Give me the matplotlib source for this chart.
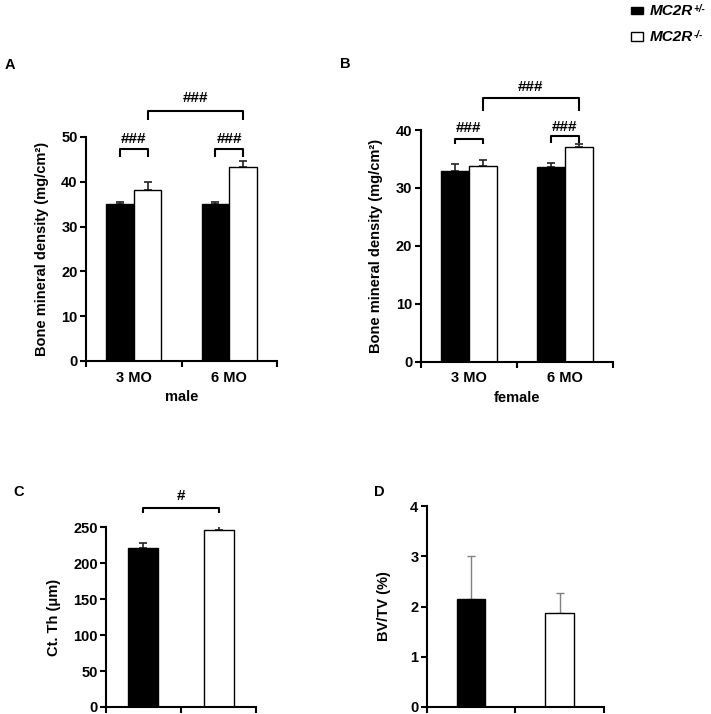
import matplotlib
matplotlib.use("Agg")
import matplotlib.pyplot as plt
from matplotlib.patches import Rectangle

plt.rcParams['font.family'] = ['Liberation Sans', 'DejaVu Sans']
plt.rcParams['font.weight'] = 'bold'

FS = 10.5

# ---- data ----
groups = ["3 MO", "6 MO"]
series = ["MC2R", "MC2R"]
series_sup = ["+/-", "-/-"]
male_het = [35.0, 35.0]
male_het_err = [0.6, 0.4]
male_ko = [38.2, 43.2]
male_ko_err = [1.7, 1.4]
female_het = [33.0, 33.6]
female_het_err = [1.1, 0.7]
female_ko = [33.8, 37.1]
female_ko_err = [1.1, 0.4]
ctth = [221.7, 245.8]
ctth_err = [6.0, 8.8]
bvtv = [2.14, 1.87]
bvtv_err = [0.87, 0.40]

W, H = 711, 714
fig = plt.figure(figsize=(W / 100, H / 100), dpi=100)


def axes_px(l, r, b, t):
    return fig.add_axes([l / W, 1 - b / H, (r - l) / W, (b - t) / H])


def style(ax, ymax, ystep, xmax):
    for s in ['top', 'right']:
        ax.spines[s].set_visible(False)
    for s in ['left', 'bottom']:
        ax.spines[s].set_linewidth(1.5)
    ax.set_ylim(0, ymax)
    ax.set_xlim(0, xmax)
    ax.set_yticks(list(range(0, int(ymax) + 1, ystep)))
    ax.tick_params(axis='y', labelsize=FS, width=1.5, length=4, pad=2)
    ax.set_xticks([i for i in range(xmax + 1)], minor=True)
    ax.tick_params(axis='x', which='minor', width=1.5, length=4)
    ax.tick_params(axis='x', which='major', length=0, labelsize=FS, pad=7)
    for lab in ax.get_yticklabels():
        lab.set_fontweight('bold')


def bracket(ax, x1, x2, ytop, ybot, text, ty):
    ax.plot([x1, x1, x2, x2], [ybot, ytop, ytop, ybot], color='black', lw=1.5,
            clip_on=False, solid_capstyle='butt')
    ax.text((x1 + x2) / 2, ty, text, ha='center', va='center', fontsize=FS + 0.5,
            fontweight='bold', clip_on=False)


def grouped(ax, het, het_err, ko, ko_err):
    w = 0.29
    xs_h = [i + 0.5 - w / 2 for i in range(len(groups))]
    xs_k = [i + 0.5 + w / 2 for i in range(len(groups))]
    ax.bar(xs_h, het, width=w, color='black', edgecolor='black', lw=1, zorder=2)
    ax.bar(xs_k, ko, width=w, color='white', edgecolor='black', lw=1, zorder=2)
    ax.errorbar(xs_h, het, yerr=[[0] * len(het), het_err], fmt='none', ecolor='#222222',
                elinewidth=1.2, capsize=3, capthick=1.2, zorder=1)
    ax.errorbar(xs_k, ko, yerr=[[0] * len(ko), ko_err], fmt='none', ecolor='#222222',
                elinewidth=1.2, capsize=3, capthick=1.2, zorder=1)
    ax.set_xticks([i + 0.5 for i in range(len(groups))])
    ax.set_xticklabels(groups, fontweight='bold')
    return xs_h, xs_k


# ---- Panel A ----
axA = axes_px(86, 277, 361, 137)
style(axA, 50, 10, 2)
xh, xk = grouped(axA, male_het, male_het_err, male_ko, male_ko_err)
axA.set_ylabel("Bone mineral density (mg/cm²)", fontsize=FS, fontweight='bold', labelpad=9)
axA.set_xlabel("male", fontsize=FS, fontweight='bold', labelpad=4)
bracket(axA, xh[0], xk[0], 47.3, 45.6, "###", 49.6)
bracket(axA, xh[1], xk[1], 47.3, 45.6, "###", 49.6)
bracket(axA, xk[0], xk[1], 55.8, 53.8, "###", 58.7)

# ---- Panel B ----
axB = axes_px(420.7, 613, 361.7, 130)
style(axB, 40, 10, 2)
xh, xk = grouped(axB, female_het, female_het_err, female_ko, female_ko_err)
axB.set_ylabel("Bone mineral density (mg/cm²)", fontsize=FS, fontweight='bold', labelpad=9)
axB.set_xlabel("female", fontsize=FS, fontweight='bold', labelpad=4)
bracket(axB, xh[0], xk[0], 38.5, 37.5, "###", 40.3)
bracket(axB, xh[1], xk[1], 39.0, 37.8, "###", 40.6)
bracket(axB, xk[0], xk[1], 45.5, 43.3, "###", 47.5)

# ---- Panel C ----
axC = axes_px(106, 256, 707, 527.3)
style(axC, 250, 50, 2)
xc = [0.49, 1.5]
axC.bar(xc[0], ctth[0], width=0.4, color='black', edgecolor='black', lw=1, zorder=2)
axC.bar(xc[1], ctth[1], width=0.4, color='white', edgecolor='black', lw=1, zorder=2)
axC.errorbar(xc, ctth, yerr=[[0, 0], ctth_err], fmt='none', ecolor='#222222',
             elinewidth=1.2, capsize=3, capthick=1.2, zorder=1)
axC.set_xticks([])
axC.set_ylabel("Ct. Th (μm)", fontsize=FS, fontweight='bold', labelpad=9)
bracket(axC, xc[0], xc[1], 277, 270, "#", 293)

# ---- Panel D ----
axD = axes_px(426.7, 604, 707, 506)
style(axD, 4, 1, 2)
xd = [0.5, 1.5]
axD.bar(xd[0], bvtv[0], width=0.32, color='black', edgecolor='black', lw=1, zorder=2)
axD.bar(xd[1], bvtv[1], width=0.32, color='white', edgecolor='black', lw=1, zorder=2)
axD.errorbar(xd, bvtv, yerr=[[0, 0], bvtv_err], fmt='none', ecolor='#808080',
             elinewidth=1.0, capsize=3, capthick=1.0, zorder=1)
axD.set_xticks([])
axD.set_ylabel("BV/TV (%)", fontsize=FS, fontweight='bold', labelpad=14)

# ---- panel letters ----
for lab, x, y in [("A", 5, 65), ("B", 340, 64), ("C", 13, 492), ("D", 374, 492)]:
    fig.text(x / W, 1 - y / H, lab, fontsize=FS, fontweight='bold', va='center', ha='left')

# ---- legend ----
fig.patches.append(Rectangle((631 / W, 1 - 14 / H), 12 / W, 7 / H, transform=fig.transFigure,
                             facecolor='black', edgecolor='black', lw=1))
fig.patches.append(Rectangle((631 / W, 1 - 41 / H), 12 / W, 9 / H, transform=fig.transFigure,
                             facecolor='white', edgecolor='black', lw=1))
renderer = fig.canvas.get_renderer()
for name, sup, y in zip(series, series_sup, [11, 37]):
    t = fig.text(650 / W, 1 - y / H, name, fontsize=FS + 0.5, fontstyle='italic',
                 fontweight='bold', va='center', ha='left')
    bb = t.get_window_extent(renderer=renderer)
    fig.text((bb.x1 + 0.5) / W, (bb.y1 - 5) / H, sup, fontsize=7, fontstyle='italic',
             fontweight='bold', va='center', ha='left')

fig.savefig("out.png", dpi=100)
